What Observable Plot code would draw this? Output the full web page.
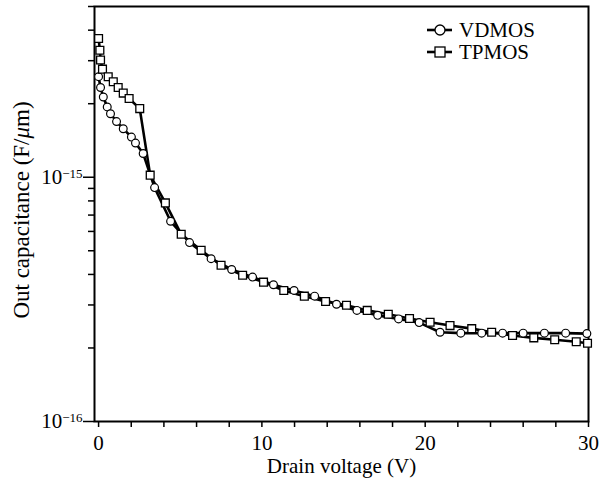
<!DOCTYPE html>
<html>
<head>
<meta charset="utf-8">
<script src="https://cdn.jsdelivr.net/npm/d3@7"></script>
<script src="https://cdn.jsdelivr.net/npm/@observablehq/plot@0.6"></script>
<style>
  html, body { margin: 0; padding: 0; background: #fff; }
  #chart svg { font-family: "Liberation Serif", "Times New Roman", serif; }
</style>
</head>
<body>
<div id="chart"></div>
<script>
// Drain voltage (V) and output capacitance (x 1e-15 F/um)
const vdmosV = [0, 0.12, 0.29, 0.53, 0.73, 1.10, 1.51, 2.01, 2.26, 2.73, 3.43, 4.41, 5.57, 6.89, 8.15, 9.43, 10.71, 11.97, 13.23, 14.57, 15.82, 17.09, 18.37, 19.63, 20.91, 22.18, 23.46, 24.74, 26.0, 27.3, 28.6, 29.9];
const vdmosC = [2.58, 2.33, 2.13, 1.94, 1.82, 1.69, 1.58, 1.46, 1.38, 1.25, 0.907, 0.660, 0.540, 0.464, 0.419, 0.390, 0.363, 0.344, 0.326, 0.302, 0.285, 0.272, 0.263, 0.254, 0.232, 0.230, 0.230, 0.230, 0.230, 0.230, 0.230, 0.229];
const tpmosV = [0, 0.08, 0.12, 0.24, 0.59, 0.90, 1.20, 1.51, 1.87, 2.52, 3.16, 4.09, 5.06, 6.28, 7.5, 8.82, 10.1, 11.34, 12.6, 13.9, 15.18, 16.45, 17.74, 19.04, 20.3, 21.52, 22.85, 24.07, 25.35, 26.65, 27.93, 29.25, 29.94];
const tpmosC = [3.70, 3.31, 3.02, 2.77, 2.58, 2.46, 2.33, 2.21, 2.10, 1.91, 1.02, 0.785, 0.584, 0.502, 0.436, 0.397, 0.372, 0.344, 0.326, 0.310, 0.299, 0.285, 0.275, 0.264, 0.255, 0.247, 0.240, 0.232, 0.225, 0.220, 0.216, 0.212, 0.209];

const seriesNames = ["VDMOS", "TPMOS"];
const xMajorTicks = [0, 10, 20, 30];
const xMinorTicks = [2, 4, 6, 8, 12, 14, 16, 18, 22, 24, 26, 28];
const yMajorTicks = [1e-16, 1e-15];
const yMinorTicks = [2e-16, 3e-16, 4e-16, 5e-16, 6e-16, 7e-16, 8e-16, 9e-16, 2e-15, 3e-15, 4e-15, 5e-15];
const xTitle = "Drain voltage (V)";
const yTitle = "Out capacitance (F/μm)";

const vdmos = vdmosV.map((v, i) => ({v, c: vdmosC[i] * 1e-15}));
const tpmos = tpmosV.map((v, i) => ({v, c: tpmosC[i] * 1e-15}));

const FS = 21;

const plot = Plot.plot({
  width: 600,
  height: 484,
  marginLeft: 94,
  marginRight: 12,
  marginTop: 6,
  marginBottom: 63,
  style: {fontFamily: "Liberation Serif, serif", fontSize: FS + "px", background: "white", color: "black"},
  x: {domain: [-0.25, 30], label: null},
  y: {type: "log", domain: [1e-16, 5e-15], label: null},
  marks: [
    Plot.axisX({ticks: xMinorTicks, tickSize: 6, tickFormat: () => "", strokeWidth: 1.5}),
    Plot.axisX({ticks: xMajorTicks, tickSize: 6, tickPadding: 8, tickFormat: d => String(d), strokeWidth: 1.5, fontSize: FS}),
    Plot.axisY({ticks: yMinorTicks, tickSize: 6, tickFormat: () => "", strokeWidth: 1.5}),
    Plot.axisY({ticks: yMajorTicks, tickSize: 11, tickPadding: 1, tickFormat: d => "EXP" + Math.round(Math.log10(d)), strokeWidth: 1.5, fontSize: FS}),
    Plot.frame({stroke: "black", strokeWidth: 2}),
    Plot.line(vdmos, {x: "v", y: "c", stroke: "black", strokeWidth: 2.6}),
    Plot.line(tpmos, {x: "v", y: "c", stroke: "black", strokeWidth: 2.6}),
    Plot.dot(vdmos, {x: "v", y: "c", symbol: "circle", r: 3.9, fill: "white", stroke: "black", strokeWidth: 1.2}),
    Plot.dot(tpmos, {x: "v", y: "c", symbol: "square", r: 4.4, fill: "white", stroke: "black", strokeWidth: 1.3}),
    Plot.text([xTitle], {frameAnchor: "bottom", dy: 51, fontSize: FS, fill: "black"}),
    Plot.text([yTitle], {frameAnchor: "left", textAnchor: "middle", dx: -73, dy: -4, rotate: -90, fontSize: 23, fill: "black"})
  ]
});

document.getElementById("chart").appendChild(plot);

const svg = d3.select(plot);
// superscript exponents on the major y tick labels
svg.selectAll("text, tspan").each(function() {
  if (this.children.length) return;
  const s = this.textContent;
  if (!s.startsWith("EXP")) return;
  const e = s.slice(3).replace("-", "−");
  const t = d3.select(this);
  t.text("");
  t.append("tspan").text("10");
  t.append("tspan").attr("dy", "-0.45em").style("font-size", "13px").text(e);
});
// italic mu in y title
svg.selectAll("text, tspan").each(function() {
  if (this.children.length) return;
  if (this.textContent !== yTitle) return;
  const t = d3.select(this);
  t.text("");
  t.append("tspan").text("Out capacitance (F/");
  t.append("tspan").style("font-style", "italic").text("μ");
  t.append("tspan").text("m)");
});

// legend
const legend = svg.append("g").attr("transform", "translate(427,30)");
seriesNames.forEach((name, i) => {
  const g = legend.append("g").attr("transform", `translate(0,${i * 22})`);
  g.append("line").attr("x1", 0).attr("x2", 25).attr("y1", 0).attr("y2", 0).attr("stroke", "black").attr("stroke-width", 2.6);
  if (i === 0) {
    g.append("circle").attr("cx", 13).attr("cy", 0).attr("r", 5).attr("fill", "white").attr("stroke", "black").attr("stroke-width", 1.3);
  } else {
    g.append("rect").attr("x", 8).attr("y", -5).attr("width", 10).attr("height", 10).attr("fill", "white").attr("stroke", "black").attr("stroke-width", 1.3);
  }
  g.append("text").attr("x", 32).attr("y", 7).style("font-size", "21px").style("text-anchor", "start").attr("fill", "black").text(name);
});
</script>
</body>
</html>
